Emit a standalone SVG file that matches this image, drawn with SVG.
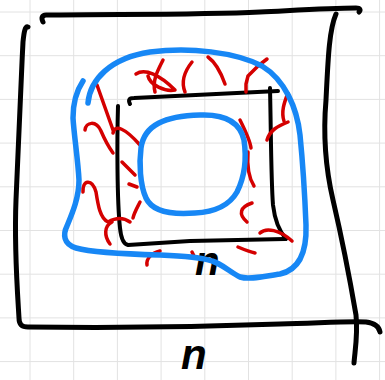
<svg xmlns="http://www.w3.org/2000/svg" width="385" height="380" viewBox="0 0 385 380">
<style>
.grid line{stroke:#e2e2e2;stroke-width:1}
.blk{fill:none;stroke:#000;stroke-linecap:round;stroke-linejoin:round}
.blue{fill:none;stroke:#1787f5;stroke-width:5.5;stroke-linecap:round;stroke-linejoin:round}
.red{fill:none;stroke:#d40000;stroke-width:3.5;stroke-linecap:round;stroke-linejoin:round}
.lbl{font-family:"Liberation Sans",Arial,sans-serif;font-weight:bold;font-style:italic;fill:#000}
</style>
<rect width="385" height="380" fill="#fff"/>
<g class="grid">
<line x1="30" y1="0" x2="30" y2="380"/><line x1="73.7" y1="0" x2="73.7" y2="380"/><line x1="117.4" y1="0" x2="117.4" y2="380"/><line x1="161.1" y1="0" x2="161.1" y2="380"/><line x1="204.8" y1="0" x2="204.8" y2="380"/><line x1="248.5" y1="0" x2="248.5" y2="380"/><line x1="292.2" y1="0" x2="292.2" y2="380"/><line x1="335.9" y1="0" x2="335.9" y2="380"/><line x1="379.6" y1="0" x2="379.6" y2="380"/>
<line x1="0" y1="12" x2="385" y2="12"/><line x1="0" y1="55.7" x2="385" y2="55.7"/><line x1="0" y1="99.4" x2="385" y2="99.4"/><line x1="0" y1="143.1" x2="385" y2="143.1"/><line x1="0" y1="186.8" x2="385" y2="186.8"/><line x1="0" y1="230.5" x2="385" y2="230.5"/><line x1="0" y1="274.2" x2="385" y2="274.2"/><line x1="0" y1="317.9" x2="385" y2="317.9"/><line x1="0" y1="361.6" x2="385" y2="361.6"/>
</g>
<g id="outer-square">
<path class="blk" stroke-width="5" d="M43,22 C41,18 42,15 46,15 C120,14 200,15 260,12 C300,10 330,8 356,8 C360,8 361,10 359,12"/>
<path class="blk" stroke-width="5" d="M28,27 C25,26 24,32 23,42 C20,100 18,160 16,200 C14,250 18,300 19,318 C19,325 22,327 28,327 C100,328 200,327 280,324 C320,323 350,321 366,322 C374,323 379,326 380,332"/>
<path class="blk" stroke-width="5" d="M336,14 C329,30 328,60 326,100 C323,135 326,170 333,200 C340,230 350,280 356,315 C358,335 355,350 354,363"/>
</g>
<g id="inner-square">
<path class="blk" stroke-width="4" d="M130,104 C128,100 129,98 134,98 L278,91"/>
<path class="blk" stroke-width="4" d="M118,106 C117,140 117,200 120,228 C121,238 123,244 128,245 L190,241 L285,239"/>
<path class="blk" stroke-width="4" d="M270,88 C271,130 271,180 273,205 C275,222 280,232 286,239"/>
</g>
<g id="hatching">
<path class="red" d="M97,85 L113,130"/>
<path class="red" d="M113,133 C115,124 125,128 140,145"/>
<path class="red" d="M85,130 C86,122 96,120 101,131 C104,138 108,146 113,153"/>
<path class="red" d="M136,74 C145,68 160,75 175,90 C165,92 150,85 148,76"/>
<path class="red" d="M163,60 C158,70 152,80 155,92"/>
<path class="red" d="M192,62 C184,72 181,82 185,92"/>
<path class="red" d="M208,57 C215,62 220,70 225,84"/>
<path class="red" d="M267,59 L258,66 L248,76 L246,84 L246,92"/>
<path class="red" d="M288,93 C284,103 281,112 284,121"/>
<path class="red" d="M288,122 C278,126 270,130 267,140"/>
<path class="red" d="M240,120 C245,130 250,140 251,148"/>
<path class="red" d="M248,152 C247,165 249,178 254,186"/>
<path class="red" d="M252,203 C240,207 238,214 247,222"/>
<path class="red" d="M260,233 C266,227 280,230 292,241"/>
<path class="red" d="M238,247 C245,250 250,252 255,253"/>
<path class="red" d="M122,162 L135,175"/>
<path class="red" d="M129,184 L137,187"/>
<path class="red" d="M140,202 C137,208 134,213 133,218"/>
<path class="red" d="M83,192 C82,180 92,178 96,192 C98,205 100,218 108,222 C115,218 123,217 130,222"/>
<path class="red" d="M112,222 C104,226 104,236 110,244"/>
<path class="red" d="M147,265 C146,258 152,253 160,251"/>
<path class="red" d="M192,252 L195,258"/>
</g>
<g id="labels">
<text class="lbl" x="195" y="275" font-size="40">n</text>
<text class="lbl" x="181" y="369" font-size="42">n</text>
</g>
<g id="outer-ring">
<path class="blue" d="M88,103 C90,80 110,58 150,52 C190,47 235,52 262,66 C285,80 297,108 300,135 C303,165 305,200 306,225 C307,255 298,270 280,274 C265,276 250,280 240,277 C230,272 222,264 212,261 C200,257 185,256 160,255 C120,254 90,252 76,248 C63,244 63,234 67,226 C72,214 79,198 79,180 C78,160 74,135 73,118 C73,100 77,90 83,81"/>
</g>
<g id="inner-ring">
<path class="blue" d="M200,115 C225,114 240,122 244,140 C247,160 244,178 237,192 C229,206 215,212 195,213 C170,215 152,211 146,198 C140,185 139,163 141,148 C144,125 165,116 200,115 Z"/>
</g>
</svg>
